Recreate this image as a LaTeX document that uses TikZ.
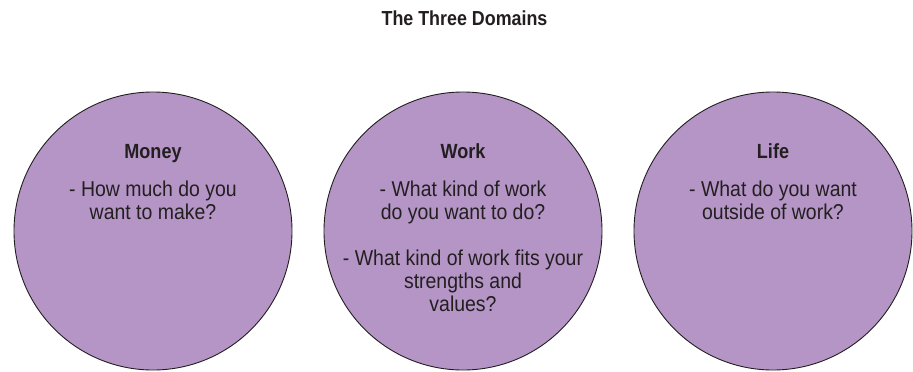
\documentclass[tikz,border=0pt]{standalone}
\usepackage{fontspec}
\newfontfamily\bodyfont{Liberation Sans}[FakeStretch=0.905]
\newfontfamily\headfont{Liberation Sans}[FakeStretch=0.88,BoldFont={Liberation Sans Bold}]
\definecolor{domainfill}{RGB}{180,149,198}
\definecolor{inkgray}{RGB}{35,31,32}
\tikzset{
  domaincircle/.style={circle, draw=inkgray, line width=0.9pt, fill=domainfill, minimum size=278pt, inner sep=0pt},
  headtxt/.style={anchor=base, text=inkgray, inner sep=0pt, font=\headfont\bfseries\fontsize{20.5}{22}\selectfont},
  titletxt/.style={anchor=base, text=inkgray, inner sep=0pt, font=\headfont\bfseries\fontsize{20.3}{22}\selectfont},
  bodytxt/.style={anchor=base, text=inkgray, inner sep=0pt, font=\bodyfont\fontsize{21.5}{23}\selectfont}
}
\begin{document}
\begin{tikzpicture}[x=1pt,y=-1pt]
\useasboundingbox (0,0) rectangle (913,372);
\node[titletxt] (title) at (464.5,25) {The Three Domains};
\node[domaincircle] (money) at (153,231) {};
\node[domaincircle] (work) at (463,231) {};
\node[domaincircle] (life) at (773,231) {};
% Money
\node[headtxt] (mh) at (153,158) {Money};
\node[bodytxt] (m1) at (153,196) {- How much do you};
\node[bodytxt] (m2) at (153,219) {want to make?};
% Work
\node[headtxt] (wh) at (463,158) {Work};
\node[bodytxt] (w1) at (463,196) {- What kind of work};
\node[bodytxt] (w2) at (463,219) {do you want to do?};
\node[bodytxt] (w3) at (463,265) {- What kind of work fits your};
\node[bodytxt] (w4) at (463,288) {strengths and};
\node[bodytxt] (w5) at (463,311) {values?};
% Life
\node[headtxt] (lh) at (773,158) {Life};
\node[bodytxt] (l1) at (773,196) {- What do you want};
\node[bodytxt] (l2) at (773,219) {outside of work?};
\end{tikzpicture}
\end{document}
